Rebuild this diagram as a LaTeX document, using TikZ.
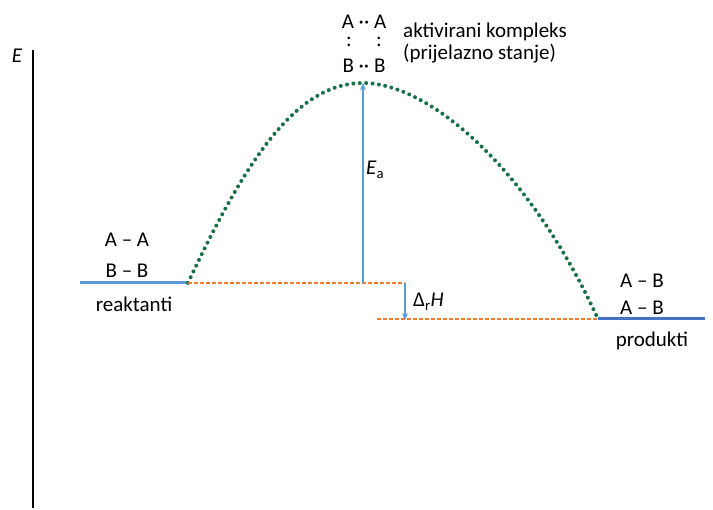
\documentclass[tikz,border=0pt]{standalone}
\usepackage{fontspec}
\setmainfont{Carlito}
\usetikzlibrary{arrows.meta}

\definecolor{reacblue}{RGB}{91,155,213}
\definecolor{prodblue}{RGB}{68,114,196}
\definecolor{barriergreen}{RGB}{24,112,72}
\definecolor{guideorange}{RGB}{237,125,49}

\begin{document}
\begin{tikzpicture}[x=1pt, y=-1pt]

  \tikzstyle{level}   = [line width=3pt]
  \tikzstyle{guide}   = [guideorange, line width=1.1pt, dash pattern=on 3.5pt off 2.5pt]
  \tikzstyle{barrier} = [barriergreen, line width=4pt, line cap=round, dash pattern=on 0pt off 6.4pt]
  \tikzstyle{marrow}  = [reacblue, line width=1.3pt, -{Stealth[length=7pt,width=6pt]}]
  \tikzstyle{txt}     = [font=\fontsize{21}{25}\selectfont, anchor=base, inner sep=0pt]

  \useasboundingbox (0,0) rectangle (713,510);

  % ---- AXIS ----
  \coordinate (axtop) at (33,50);
  \coordinate (axbot) at (33,508);
  \draw[black, line width=2.2pt] (axtop) -- (axbot);
  \node[txt] (elbl) at (17,63) {\textit{E}};

  % ---- LEVELS ----
  \coordinate (reacL) at (80,283);
  \coordinate (reacR) at (188,283);
  \coordinate (prodL) at (598,319);
  \coordinate (prodR) at (705,319);
  \coordinate (ts)    at (363,83);

  \draw[level, reacblue] (reacL) -- (reacR);
  \draw[level, prodblue] (prodL) -- (prodR);

  % ---- BARRIER ----
  \draw[barrier] (reacR) .. controls (250,150) and (300,83) .. (ts)
                         .. controls (430,83) and (530,170) .. (prodL);

  % ---- GUIDES ----
  \coordinate (dhtop) at (405,283);
  \coordinate (dhbot) at (405,320);
  \coordinate (guideL) at (377,319);
  \coordinate (eabot) at (363,283);
  \draw[guide] (reacR) -- (dhtop);
  \draw[guide] (guideL) -- (prodL);

  % ---- ARROWS ----
  \draw[marrow] (eabot) -- (ts);
  \draw[marrow] (dhtop) -- (dhbot);
  \node[txt, anchor=base west] (ealbl) at (366,175) {\textit{E}\textsubscript{a}};
  \node[txt, anchor=base west] (dhlbl) at (413,307) {Δ\textsubscript{r}\textit{H}};

  % ---- REACTANTS ----
  \node[txt] (aa)   at (127,247) {A – A};
  \node[txt] (bb)   at (127,278) {B – B};
  \node[txt] (reac) at (134,312) {reaktanti};

  % ---- PRODUCTS ----
  \node[txt] (ab1)  at (642,288) {A – B};
  \node[txt] (ab2)  at (642,315) {A – B};
  \node[txt] (prod) at (652,347) {produkti};

  % ---- TRANSITION STATE ----
  \node[txt] (tsA)  at (364,29) {A ·· A};
  \node[txt] (col1) at (349,47) {:};
  \node[txt] (col2) at (379,47) {:};
  \node[txt] (tsB)  at (364,73) {B ·· B};
  \node[txt, anchor=base west] (kompl) at (403,38) {aktivirani kompleks};
  \node[txt, anchor=base west] (stanje) at (403,60) {(prijelazno stanje)};

\end{tikzpicture}
\end{document}
